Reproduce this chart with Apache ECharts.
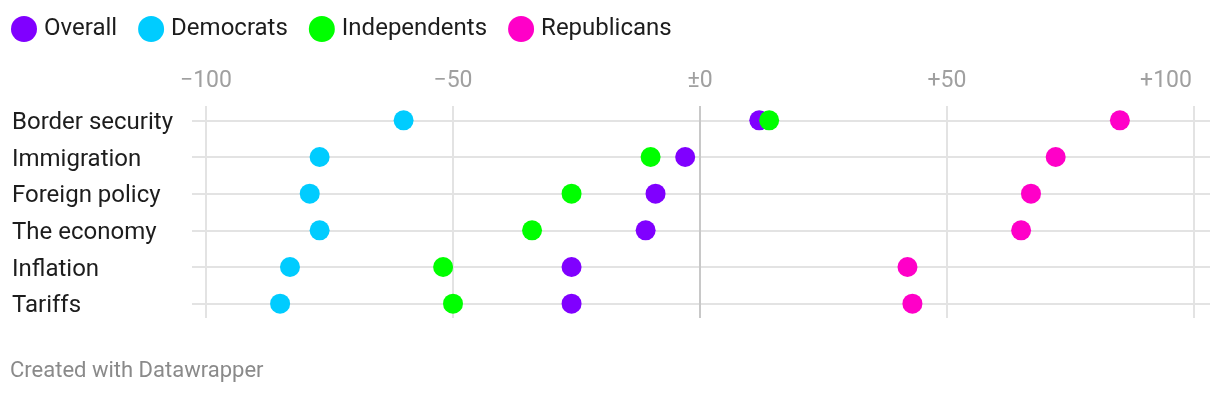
<!DOCTYPE html>
<html><head><meta charset="utf-8">
<script src="https://cdn.jsdelivr.net/npm/echarts@6/dist/echarts.min.js"></script>
<style>html,body{margin:0;padding:0;background:#fff;}#c{width:1220px;height:394px;}</style>
</head><body><div id="c"></div>
<script>
const categories = ['Border security','Immigration','Foreign policy','The economy','Inflation','Tariffs'];
const overall      = [12, -3, -9, -11, -26, -26];
const democrats    = [-60, -77, -79, -77, -83, -85];
const independents = [14, -10, -26, -34, -52, -50];
const republicans  = [85, 72, 67, 65, 42, 43];
const tickValues = [-100, -50, 0, 50, 100];
const tickLabels = ['\u2212100', '\u221250', '\u00b10', '+50', '+100'];
const seriesNames = ['Overall','Democrats','Independents','Republicans'];
const seriesColors = ['#8000ff','#00ccff','#00ff00','#ff00c8'];
const seriesData = [overall, democrats, independents, republicans];

const FONT = 'Roboto';
const chart = echarts.init(document.getElementById('c'), null, {renderer:'canvas'});
const gridTop = 102, gridH = 220;
const option = {
  animation: false,
  textStyle: {fontFamily: FONT},
  legend: {
    left: 6, top: 11, itemWidth: 26, itemHeight: 26, itemGap: 21, icon: 'circle',
    textStyle: {fontSize: 24, color: '#1d1d1d', fontFamily: FONT, padding: [0,0,0,2]},
    data: seriesNames
  },
  graphic: [{type:'text', left: 10, top: 360, style:{text:'Created with Datawrapper', fill:'#8a8a8a', font:'22px Roboto'}}],
  grid: [
    {left: 206, width: 988, top: 106, height: 212},
    {left: 206, width: 988, top: gridTop, height: gridH},
    {left: 192, width: 1018, top: gridTop, height: gridH}
  ],
  xAxis: [
    {gridIndex: 0, type: 'value', position: 'top', min: -100, max: 100, interval: 50,
      axisLine:{show:false}, axisTick:{show:false},
      splitLine:{show:true, lineStyle:{color:'#e3e3e3', width:2}},
      axisLabel:{show:true, fontSize: 23, color:'#a0a0a0', margin: 13, fontFamily: FONT,
        formatter: v => {const i = tickValues.indexOf(v); return i === tickValues.length-1 ? '{e|'+tickLabels[i]+'}' : tickLabels[i];},
        rich: {e: {fontSize: 23, color:'#a0a0a0', fontFamily: FONT, padding:[0,56,0,0]}}}},
    {gridIndex: 1, type: 'value', min: -100, max: 100, show: false},
    {gridIndex: 2, type: 'value', min: 0, max: 1, show: false}
  ],
  yAxis: [
    {gridIndex: 0, type: 'value', min: 0, max: 1, show: false},
    {gridIndex: 1, type: 'category', data: categories, inverse: true,
      axisLine:{show:false}, axisTick:{show:false}, splitLine:{show:false},
      axisLabel:{align:'left', margin: 194, fontSize: 24, color:'#1d1d1d', fontFamily: FONT,
        formatter: v => '{a|' + v + '}',
        rich: {a: {fontSize: 24, color:'#1d1d1d', fontFamily: FONT, padding:[5,0,0,0]}}}},
    {gridIndex: 2, type: 'category', data: categories, inverse: true, show: false}
  ],
  series: [
    {type:'scatter', xAxisIndex: 2, yAxisIndex: 2, data: [], silent: true, z: 0,
      markLine: {silent:true, symbol:'none', label:{show:false}, lineStyle:{color:'#e3e3e3', width:2, type:'solid'},
        data: categories.map(c => ({yAxis: c}))}},
    {type:'scatter', xAxisIndex: 0, yAxisIndex: 0, data: [], silent: true, z: 1,
      markLine: {silent:true, symbol:'none', label:{show:false}, lineStyle:{color:'#c8c8c8', width:2, type:'solid'},
        data: [{xAxis: 0}]}}
  ].concat(seriesData.map((d, k) => ({
    type: 'scatter', name: seriesNames[k], xAxisIndex: 1, yAxisIndex: 1,
    symbolSize: 20, itemStyle: {color: seriesColors[k], opacity: 1}, z: 5 + k,
    data: d.map((v, i) => [v, categories[i]])
  })))
};
chart.setOption(option);
</script></body></html>
